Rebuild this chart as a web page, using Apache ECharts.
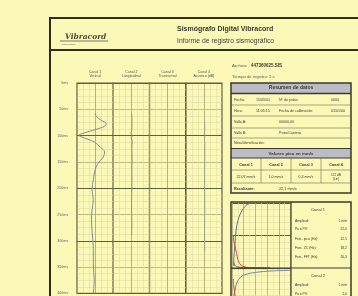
<!DOCTYPE html>
<html>
<head>
<meta charset="utf-8">
<script src="https://cdn.jsdelivr.net/npm/echarts@6/dist/echarts.min.js"></script>
<style>
  html, body { margin: 0; padding: 0; background: #fcf9b8; }
  #chart { width: 358px; height: 296px; }
</style>
</head>
<body>
<div id="chart"></div>
<script>
// 通道信号：时间 (ms) 与归一化振幅
const tiemposC1 = [58, 64, 70, 78, 84, 89, 95, 99, 105, 112, 122, 131, 141, 152, 165, 184, 203, 222, 241, 260, 289, 317, 346, 374, 400];
const canal1 = [0, 0.08, 0.3, 0.62, 0.42, -0.05, -0.6, -0.9, -0.55, -0.05, 0.28, 0.52, 0.45, 0.17, 0, -0.1, -0.17, -0.1, -0.17, -0.2, -0.15, -0.1, -0.1, -0.05, -0.1];
const tiemposC2 = [58, 75, 90, 96, 100, 104, 110, 125, 145, 165, 185, 210, 240, 270, 290];
const canal2 = [0.02, 0.04, 0.03, -0.04, 0.1, -0.03, 0.05, 0.03, 0.05, 0.03, 0.04, 0.02, 0.01, 0.03, 0.01];
const tiemposC4 = [70, 90, 97, 100, 103, 115, 140, 180, 230, 280, 320];
const canal4 = [0.04, 0.05, 0.02, 0.1, 0.03, 0.05, 0.05, 0.04, 0.05, 0.04, 0.05];

// 刻度与表头
const etiquetasTiempo = ['0ms', '50ms', '100ms', '150ms', '200ms', '250ms', '300ms', '350ms', '400ms'];
const canales = ['Canal 1', 'Canal 2', 'Canal 3', 'Canal 4'];
const componentes = ['Vertical', 'Longitudinal', 'Transversal', 'Acústico (dB)'];

// 频谱小图曲线 (frecuencia, amplitud)
const frecA = [32, 25, 20, 15, 10, 7, 5, 3, 3];
const ampA = [100, 97, 92, 85, 73, 58, 35, 12, 3];
const frecRojo1 = [2, 3, 4, 6, 8, 10, 13, 18, 25];
const ampRojo1 = [50, 42, 38, 30, 22, 13, 7, 3, 1];
const frecB = [3, 6, 10, 20, 40, 65];
const ampB = [8, 3, 1.5, 0.8, 0.5, 0.3];
const frecC = [100, 66, 41, 24, 15, 8, 5, 3, 3];
const ampC = [98, 97, 95, 92, 88, 79, 67, 58, 50];
const frecRojo2 = [2, 3, 4, 5, 6];
const ampRojo2 = [85, 75, 68, 62, 58];

// 右侧表格文字
const filasDatos = [
  ['Fecha:', '15/05/01', 'Nº de pulso:', '0000'],
  ['Hora:', '11:05:15', 'Fecha de calibración:', '01/01/00'],
  ['Valla A:', '', '00000,00', ''],
  ['Valla B:', '', 'Pozo/Cantera', ''],
  ['Nota/Identificación:', '', '', '']
];
const valoresPico = ['22,07 mm/s', '1,0 mm/s', '0,3 mm/s', '112 dB'];
const resultante = '22,1 mm/s';
const filasCanal1 = [['Amplitud:', '1 mm'], ['Pico PV:', '22,0'], ['Frec. pico (Hz):', '12,5'], ['Frec. ZC (Hz):', '18,2'], ['Frec. FFT (Hz):', '26,3']];
const filasCanal2 = [['Amplitud:', '1 mm'], ['Pico PV:', '1,0']];

const FONT = '"Liberation Sans", Arial, sans-serif';
const GRUESA = '#5f5f3a';
const MEDIA = '#a3a26e';
const FINA = '#dedba6';
const TINTA = '#3a3a2e';

const colLeft = 77, colW = 36.25;

const myChart = echarts.init(document.getElementById('chart'), null, { renderer: 'canvas' });

const grids = [];
const xAxes = [];
const yAxes = [];
const series = [];

for (let i = 0; i < 4; i++) {
  grids.push({ left: colLeft + i * colW, top: 83, width: colW, height: 26.3 * 8, show: true, borderColor: GRUESA, borderWidth: 1.2 });
  xAxes.push({
    type: 'value', gridIndex: i, min: -1, max: 1, interval: 1,
    axisLine: { show: false }, axisTick: { show: false }, axisLabel: { show: false },
    splitLine: { lineStyle: { color: MEDIA, width: 0.8 } },
    minorTick: { show: false, splitNumber: 3 },
    minorSplitLine: { show: true, lineStyle: { color: FINA, width: 0.6 } }
  });
}
for (let i = 0; i < 4; i++) {
  yAxes.push({
    type: 'value', gridIndex: i, inverse: true, min: 0, max: 400, interval: 50,
    axisLine: { show: false }, axisTick: { show: false },
    axisLabel: {
      show: i === 0, fontSize: 3.6, color: '#666', margin: 9, fontFamily: FONT,
      formatter: v => etiquetasTiempo[Math.round(v / 50)]
    },
    splitLine: { lineStyle: { color: MEDIA, width: 0.7 } },
    minorTick: { show: false, splitNumber: 4 },
    minorSplitLine: { show: true, lineStyle: { color: FINA, width: 0.6 } }
  });
}
// 每 100ms 粗线
for (let i = 0; i < 4; i++) {
  yAxes.push({
    type: 'value', gridIndex: i, inverse: true, min: 0, max: 400, interval: 100, z: 3,
    axisLine: { show: false }, axisTick: { show: false }, axisLabel: { show: false },
    splitLine: { lineStyle: { color: GRUESA, width: 1.2 } }
  });
}

// 频谱小图（第二个只露出上部）
[[203, 65, 0, 100, 50], [269, 26.5, 60, 100, 20]].forEach((g, k) => {
  grids.push({ left: 232, top: g[0], width: 58.5, height: g[1], show: false });
  xAxes.push({
    type: 'value', gridIndex: 4 + k, min: 0, max: 100, interval: 20,
    axisLine: { show: false }, axisTick: { show: false }, axisLabel: { show: false },
    splitLine: { lineStyle: { color: MEDIA, width: 0.7 } },
    minorTick: { show: false, splitNumber: 2 },
    minorSplitLine: { show: true, lineStyle: { color: FINA, width: 0.6 } }
  });
  yAxes.push({
    type: 'value', gridIndex: 4 + k, min: g[2], max: g[3], interval: g[4],
    axisLine: { show: false }, axisTick: { show: false }, axisLabel: { show: false },
    splitLine: { lineStyle: { color: k === 0 ? GRUESA : FINA, width: k === 0 ? 1 : 0.6 } },
    minorTick: { show: false, splitNumber: k === 0 ? 5 : 2 },
    minorSplitLine: { show: true, lineStyle: { color: FINA, width: 0.6 } }
  });
});

const pares = (xs, ys) => xs.map((x, i) => [x, ys[i]]);
const linea = (data, xi, yi, color, width) => ({
  type: 'line', xAxisIndex: xi, yAxisIndex: yi, data: data,
  showSymbol: false, smooth: 0.35, z: 5, silent: true, clip: true,
  lineStyle: { color: color, width: width }
});

series.push(linea(pares(canal1, tiemposC1), 0, 0, '#838a9c', 1));
series.push(linea(pares(canal2, tiemposC2), 1, 1, '#929280', 0.8));
series.push(linea(pares(canal4, tiemposC4), 3, 3, '#9e9e8a', 0.8));

series.push(linea(pares(frecA, ampA), 4, 8, '#6b6e82', 1));
series.push(linea(pares(frecRojo1, ampRojo1), 4, 8, '#d0452e', 1));
series.push(linea(pares(frecB, ampB), 4, 8, '#55586a', 1));
series.push(linea(pares(frecC, ampC), 5, 9, '#7684aa', 1));
series.push(linea(pares(frecRojo2, ampRojo2), 5, 9, '#d0452e', 1));

// 文字与框线
const txt = (text, x, y, size, opt = {}) => ({
  type: 'text', silent: true, z: 10,
  style: Object.assign({
    text: text, x: x, y: y, fontSize: size, fontFamily: FONT, fill: TINTA,
    textAlign: 'left', textVerticalAlign: 'middle'
  }, opt)
});
const lin = (x1, y1, x2, y2, w, color) => ({
  type: 'line', silent: true, z: 9,
  shape: { x1, y1, x2, y2 }, style: { stroke: color || TINTA, lineWidth: w }
});
const caja = (x, y, width, height, fill, stroke, w) => ({
  type: 'rect', silent: true, z: 8,
  shape: { x, y, width, height }, style: { fill: fill, stroke: stroke, lineWidth: w }
});

const graphic = [];
// 页面外框
graphic.push(caja(50, 18, 340, 300, 'none', '#2e2e1e', 2));
graphic.push(lin(50, 50, 390, 50, 2, '#2e2e1e'));
// 标志
graphic.push(txt('Vibracord', 65, 37, 7.5, { fontFamily: '"DejaVu Serif", serif', fontStyle: 'italic', fontWeight: 'bold', fill: '#4a4a3a' }));
graphic.push(lin(60, 41, 108, 41, 0.8, '#555'));
graphic.push(txt('sismógrafos', 62, 44, 2.5, { fill: '#666' }));
// 标题
graphic.push(txt('Sismógrafo Digital Vibracord', 177, 29, 7, { fontWeight: 'bold' }));
graphic.push(txt('Informe de registro sismográfico', 177, 41, 6.8, { fill: '#444' }));
// 通道表头
canales.forEach((c, i) => {
  const cx = colLeft + i * colW + colW / 2;
  graphic.push(txt(c, cx, 72, 3.5, { textAlign: 'center', fill: '#555' }));
  graphic.push(txt(componentes[i], cx, 76.5, 3.5, { textAlign: 'center', fill: '#555' }));
});
// 文件信息
graphic.push(txt('Archivo:', 232, 66, 4.3, { fill: '#555' }));
graphic.push(txt('447360625.SIS', 251, 66, 4.5, { fontWeight: 'bold' }));
graphic.push(txt('Tiempo de registro: 1 s', 232, 77, 4.2, { fill: '#555' }));

// 数据汇总表
graphic.push(caja(231, 83, 120, 10, '#bcbcc6', 'none', 0));
graphic.push(txt('Resumen de datos', 291, 88, 5, { textAlign: 'center', fontWeight: 'bold' }));
graphic.push(lin(231, 93.5, 351, 93.5, 1.4));
[105, 116, 128, 138].forEach(y => graphic.push(lin(231, y, 351, y, 0.6, '#6a6a50')));
filasDatos.forEach((f, i) => {
  const y = [99.5, 110.5, 122, 133, 143][i];
  graphic.push(txt(f[0], 234, y, 3.6));
  if (f[1]) graphic.push(txt(f[1], 256, y, 3.6));
  if (f[2]) graphic.push(txt(f[2], 279, y, 3.6));
  if (f[3]) graphic.push(txt(f[3], 331, y, 3.6));
});
graphic.push(caja(231, 148.5, 120, 9.5, '#bcbcc6', 'none', 0));
graphic.push(lin(231, 148.5, 351, 148.5, 1));
graphic.push(lin(231, 158, 351, 158, 1));
graphic.push(txt('Valores pico en mm/s', 291, 153.3, 4.4, { textAlign: 'center', fontWeight: 'bold' }));
[170, 183].forEach(y => graphic.push(lin(231, y, 351, y, 0.6, '#6a6a50')));
[261, 291, 321].forEach(x => graphic.push(lin(x, 158, x, 183, 0.6, '#6a6a50')));
canales.forEach((c, i) => {
  const cx = 246 + i * 30;
  graphic.push(txt(c, cx, 164.5, 3.8, { textAlign: 'center', fontWeight: 'bold' }));
  if (i < 3) graphic.push(txt(valoresPico[i], cx, 176.5, 3.6, { textAlign: 'center' }));
});
graphic.push(txt(valoresPico[3], 336, 175, 3.2, { textAlign: 'center' }));
graphic.push(txt('(Lin)', 336, 179, 3.2, { textAlign: 'center' }));
graphic.push(txt('Resultante:', 234, 188.5, 3.8, { fontWeight: 'bold' }));
graphic.push(txt(resultante, 279, 188.5, 3.8));
graphic.push(caja(231, 83, 120, 110, 'none', TINTA, 1.5));

// 频谱框
graphic.push(caja(231, 202, 120, 140, 'none', TINTA, 1.5));
graphic.push(lin(291, 202, 291, 342, 1.2));
graphic.push(lin(231, 268, 351, 268, 1.2));
graphic.push(txt('Canal 1', 318, 210, 4, { textAlign: 'center' }));
filasCanal1.forEach((f, i) => {
  const y = [221, 229.5, 239, 248, 257][i];
  graphic.push(txt(f[0], 295, y, 3.4));
  graphic.push(txt(f[1], 347, y, 3.4, { textAlign: 'right' }));
});
graphic.push(txt('Canal 2', 318, 275.5, 4, { textAlign: 'center' }));
filasCanal2.forEach((f, i) => {
  const y = [285, 294][i];
  graphic.push(txt(f[0], 295, y, 3.4));
  graphic.push(txt(f[1], 347, y, 3.4, { textAlign: 'right' }));
});

const option = {
  backgroundColor: '#fcf9b8',
  animation: false,
  grid: grids,
  xAxis: xAxes,
  yAxis: yAxes,
  series: series,
  graphic: graphic
};

myChart.setOption(option);
</script>
</body>
</html>
